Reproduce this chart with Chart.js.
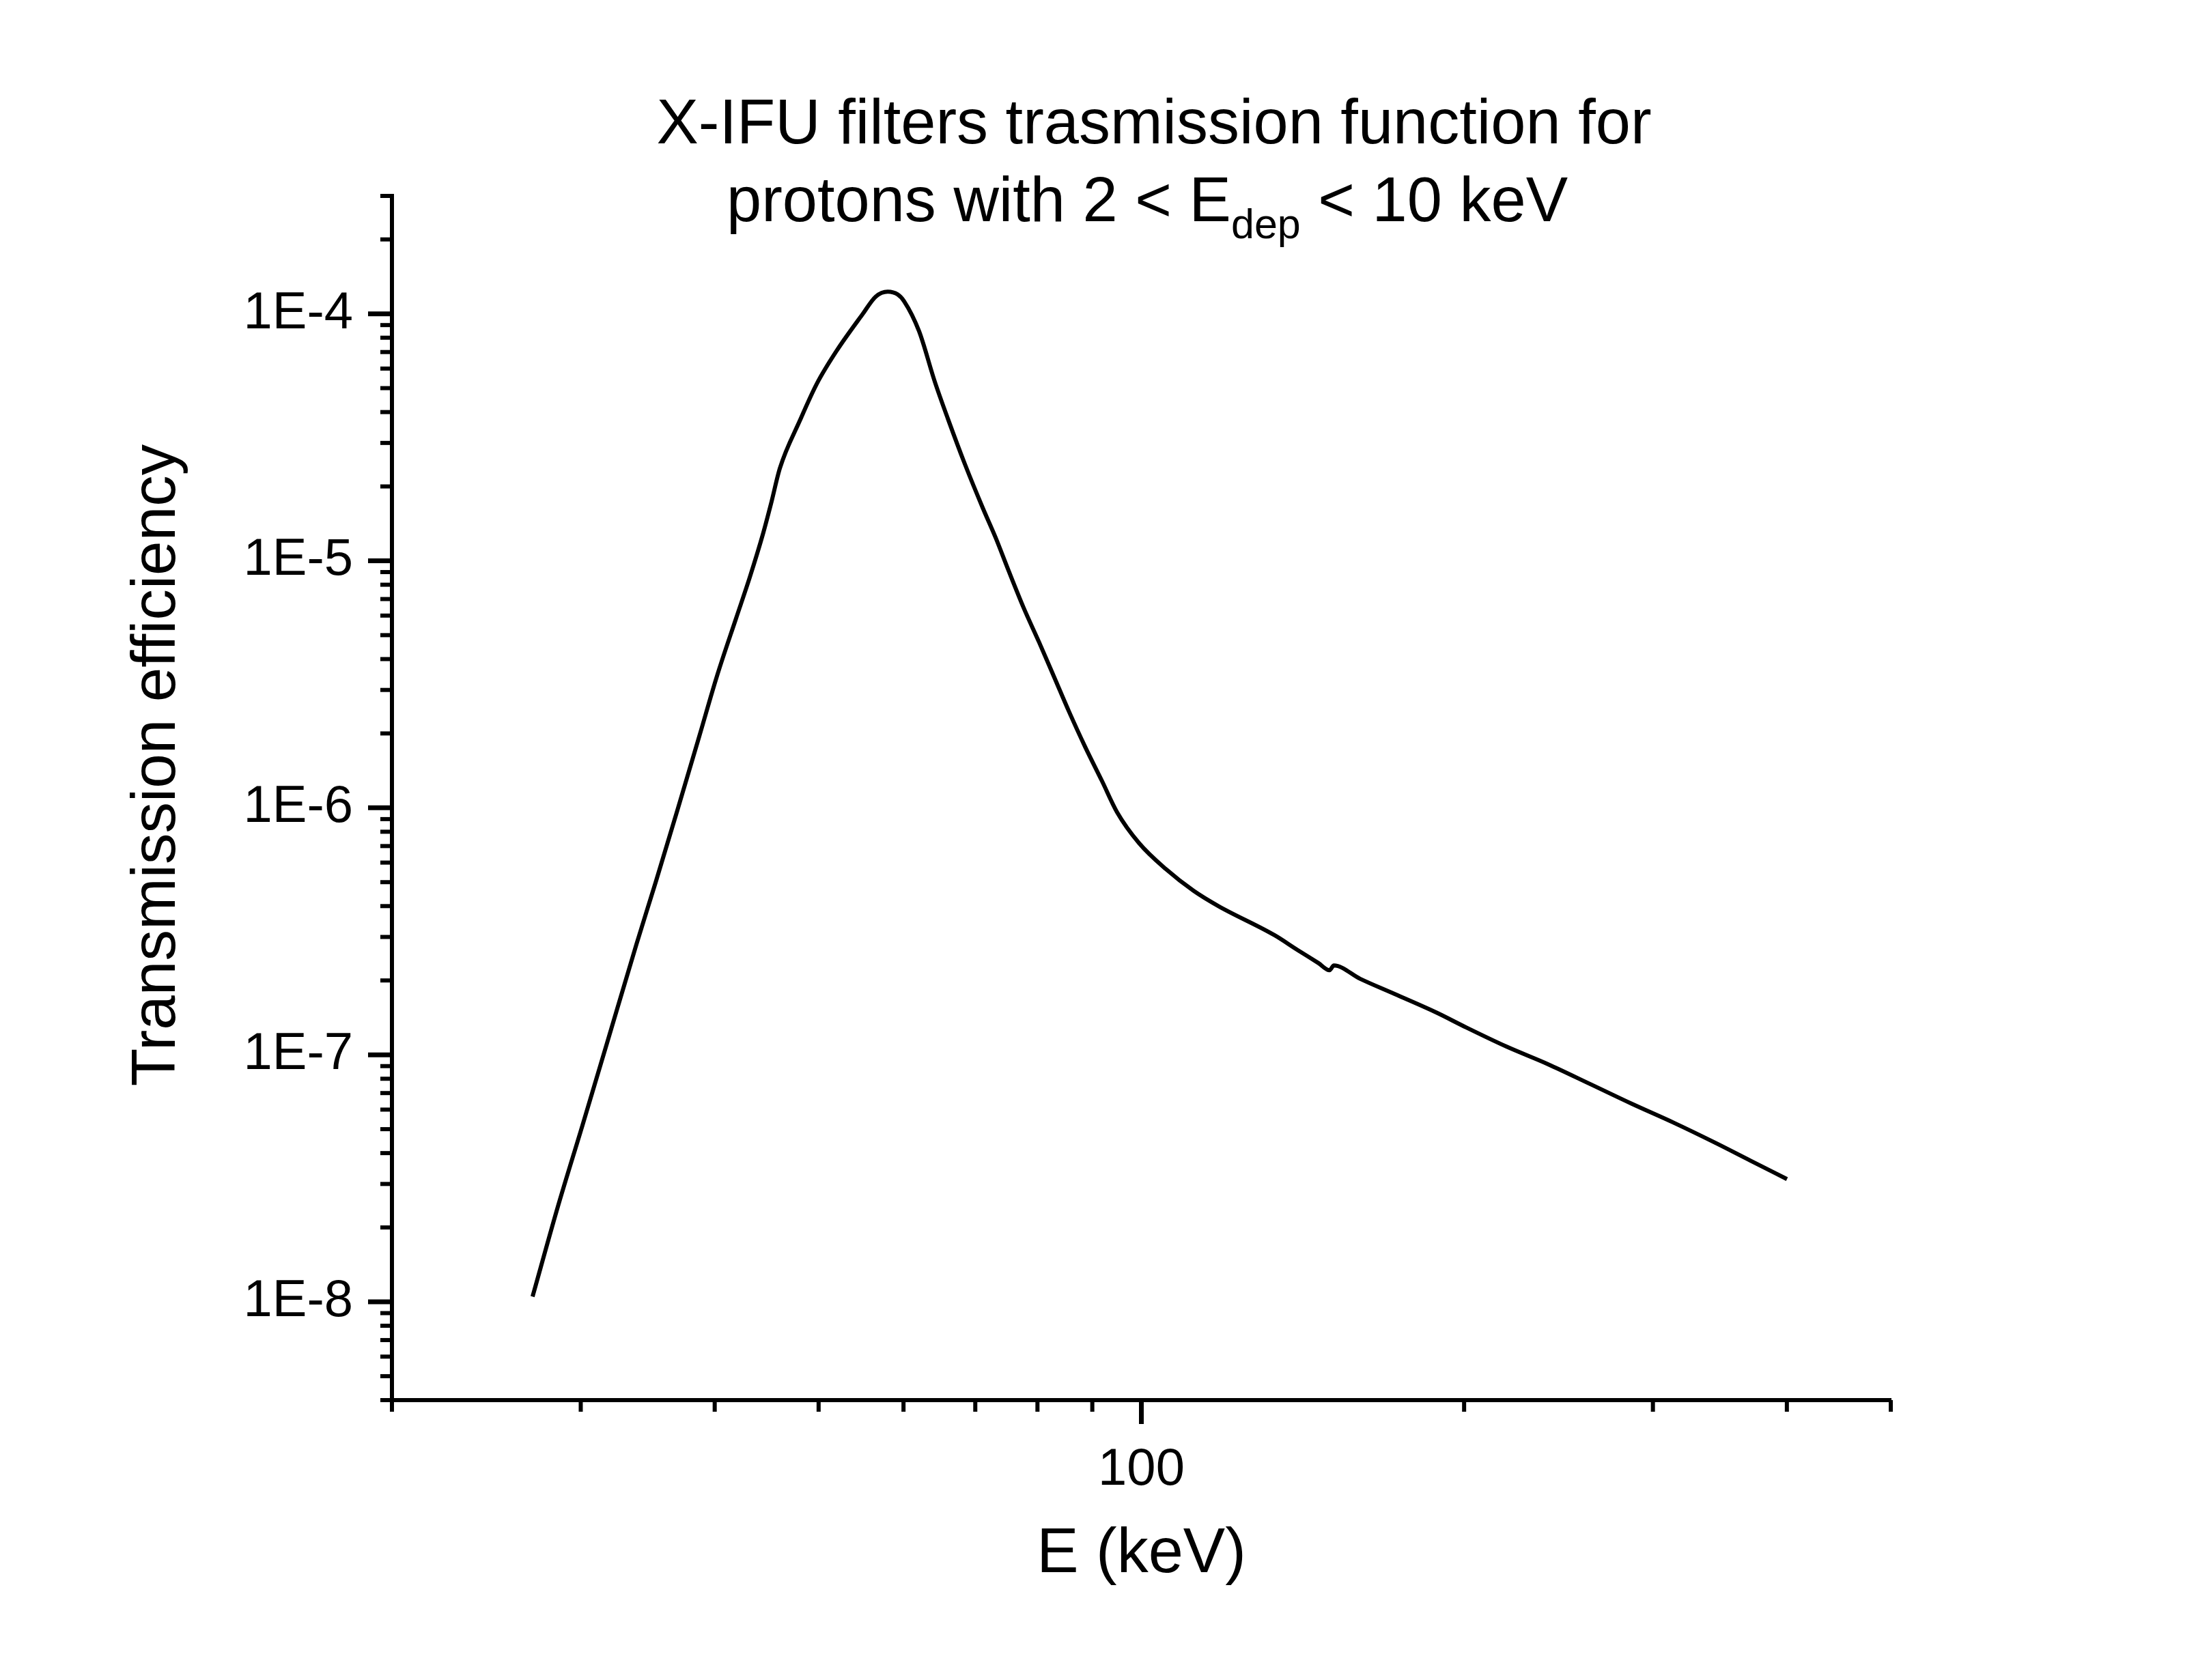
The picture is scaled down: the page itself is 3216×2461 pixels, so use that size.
<!DOCTYPE html>
<html>
<head>
<meta charset="utf-8">
<script src="https://cdn.jsdelivr.net/npm/chart.js@4.4.1/dist/chart.umd.min.js"></script>
<style>
html,body{margin:0;padding:0;background:#fff;}
canvas{display:block;}
</style>
</head>
<body>
<canvas id="c" width="3216" height="2461" style="width:3216px;height:2461px"></canvas>
<script>
// ---- data ----
const energyKeV = [27.05, 28.57, 30.11, 31.75, 33.81, 35.24, 36.9, 38.7, 40.2, 41.88, 43.14, 44.36, 45.14, 46.01, 48.02, 49.81, 51.96, 54.95, 56.53, 58.0, 59.25, 60.08, 62.04, 64.17, 66.0, 68.46, 71.12, 73.13, 75.19, 77.65, 80.3, 82.93, 85.65, 88.6, 91.92, 94.93, 99.5, 105.4, 111.9, 118.0, 133.1, 139.8, 146.3, 149.8, 151.2, 160.0, 172.4, 188.6, 200.2, 219.0, 239.5, 262.1, 286.8, 313.7, 343.1, 369.8, 400.1];
const efficiency = [1.05e-8, 2.44e-8, 5.18e-8, 1.12e-7, 2.80e-7, 5.0e-7, 9.7e-7, 1.95e-6, 3.42e-6, 5.85e-6, 8.6e-6, 1.28e-5, 1.70e-5, 2.37e-5, 3.69e-5, 5.21e-5, 7.07e-5, 9.96e-5, 1.174e-4, 1.229e-4, 1.198e-4, 1.124e-4, 8.50e-5, 5.31e-5, 3.76e-5, 2.46e-5, 1.64e-5, 1.24e-5, 9.12e-6, 6.46e-6, 4.67e-6, 3.38e-6, 2.44e-6, 1.77e-6, 1.28e-6, 9.59e-7, 7.20e-7, 5.65e-7, 4.61e-7, 4.0e-7, 3.05e-7, 2.66e-7, 2.35e-7, 2.20e-7, 2.30e-7, 2.03e-7, 1.76e-7, 1.48e-7, 1.30e-7, 1.08e-7, 9.16e-8, 7.62e-8, 6.33e-8, 5.31e-8, 4.40e-8, 3.73e-8, 3.14e-8];
const xTickValues = [20, 30, 40, 50, 60, 70, 80, 90, 100, 200, 300, 400, 500];
const xTickLabels = ['', '', '', '', '', '', '', '', '100', '', '', '', ''];
const xMajorTicks = [100];
const yMajorTicks = [1e-8, 1e-7, 1e-6, 1e-5, 1e-4];
const yMajorLabels = ['1E-8', '1E-7', '1E-6', '1E-5', '1E-4'];
const yMinorTicks = [4e-9, 5e-9, 6e-9, 7e-9, 8e-9, 9e-9,
  2e-8, 3e-8, 4e-8, 5e-8, 6e-8, 7e-8, 8e-8, 9e-8,
  2e-7, 3e-7, 4e-7, 5e-7, 6e-7, 7e-7, 8e-7, 9e-7,
  2e-6, 3e-6, 4e-6, 5e-6, 6e-6, 7e-6, 8e-6, 9e-6,
  2e-5, 3e-5, 4e-5, 5e-5, 6e-5, 7e-5, 8e-5, 9e-5,
  2e-4, 3e-4];
const titleLine1 = 'X-IFU filters trasmission function for';
const titleLine2a = 'protons with 2 < E';
const titleSub = 'dep';
const titleLine2b = ' < 10 keV';
const xTitle = 'E (keV)';
const yTitle = 'Transmission efficiency';

const FONT = "'Liberation Sans', Arial, sans-serif";
const points = energyKeV.map((e, i) => ({x: e, y: efficiency[i]}));

const textPlugin = {
  id: 'texts',
  afterDraw(chart) {
    const ctx = chart.ctx;
    const xs = chart.scales.x, ys = chart.scales.y;
    ctx.save();
    ctx.strokeStyle = '#000';
    const axX = chart.chartArea.left, axY = chart.chartArea.bottom;
    ys.ticks.forEach(t => {
      const p = ys.getPixelForValue(t.value);
      const major = yMajorTicks.some(m => Math.abs(m - t.value) / m < 1e-6);
      ctx.lineWidth = major ? 7 : 6;
      const len = major ? 35 : 17;
      ctx.beginPath(); ctx.moveTo(axX, p); ctx.lineTo(axX - len, p); ctx.stroke();
    });
    xs.ticks.forEach(t => {
      const p = xs.getPixelForValue(t.value);
      const major = xMajorTicks.includes(t.value);
      ctx.lineWidth = major ? 7 : 6;
      const len = major ? 35 : 17;
      ctx.beginPath(); ctx.moveTo(p, axY); ctx.lineTo(p, axY + len); ctx.stroke();
    });
    // main title
    ctx.fillStyle = '#000';
    ctx.textBaseline = 'alphabetic';
    ctx.font = '92px ' + FONT;
    ctx.textAlign = 'center';
    ctx.fillText(titleLine1, 1690, 210);
    ctx.textAlign = 'left';
    const wA = ctx.measureText(titleLine2a).width;
    const wB = ctx.measureText(titleLine2b).width;
    ctx.font = '61px ' + FONT;
    const wS = ctx.measureText(titleSub).width;
    const total = wA + wS + wB;
    const x0 = 1680 - total / 2;
    ctx.font = '92px ' + FONT;
    ctx.fillText(titleLine2a, x0, 324);
    ctx.font = '61px ' + FONT;
    ctx.fillText(titleSub, x0 + wA, 349);
    ctx.font = '92px ' + FONT;
    ctx.fillText(titleLine2b, x0 + wA + wS, 324);
    // y axis title
    ctx.translate(256, 1121);
    ctx.rotate(-Math.PI / 2);
    ctx.textAlign = 'center';
    ctx.font = '91px ' + FONT;
    ctx.fillText(yTitle, 0, 0);
    ctx.restore();
  }
};

new Chart(document.getElementById('c'), {
  type: 'line',
  data: {
    datasets: [{
      data: points,
      borderColor: '#000',
      borderWidth: 6,
      pointRadius: 0,
      fill: false,
      cubicInterpolationMode: 'monotone'
    }]
  },
  options: {
    responsive: false,
    devicePixelRatio: 1,
    animation: false,
    layout: {padding: {top: 287, right: 447, bottom: 0, left: 0}},
    plugins: {legend: {display: false}, tooltip: {enabled: false}, title: {display: false}},
    scales: {
      x: {
        type: 'logarithmic',
        min: 20, max: 500,
        afterBuildTicks: s => { s.ticks = xTickValues.map(v => ({value: v})); },
        afterFit: s => { s.height = 410; },
        grid: {display: false, drawTicks: false},
        border: {display: true, color: '#000', width: 6},
        ticks: {
          autoSkip: false, maxRotation: 0, padding: 57, color: '#000',
          font: {family: FONT, size: 76},
          callback: (v, i) => xTickLabels[i]
        },
        title: {display: true, text: xTitle, color: '#000', font: {family: FONT, size: 92}, padding: {top: 0, bottom: 128}}
      },
      y: {
        type: 'logarithmic',
        min: 4e-9, max: 3e-4,
        afterBuildTicks: s => {
          const all = yMinorTicks.concat(yMajorTicks).sort((a, b) => a - b);
          s.ticks = all.map(v => ({value: v}));
        },
        afterFit: s => { s.width = 574; },
        grid: {display: false, drawTicks: false},
        border: {display: true, color: '#000', width: 6},
        ticks: {
          autoSkip: false, padding: 57, color: '#000',
          font: {family: FONT, size: 76},
          callback: (v) => { const k = yMajorTicks.findIndex(m => Math.abs(m - v) / m < 1e-6); return k >= 0 ? yMajorLabels[k] : ''; }
        }
      }
    }
  },
  plugins: [textPlugin]
});
</script>
</body>
</html>
